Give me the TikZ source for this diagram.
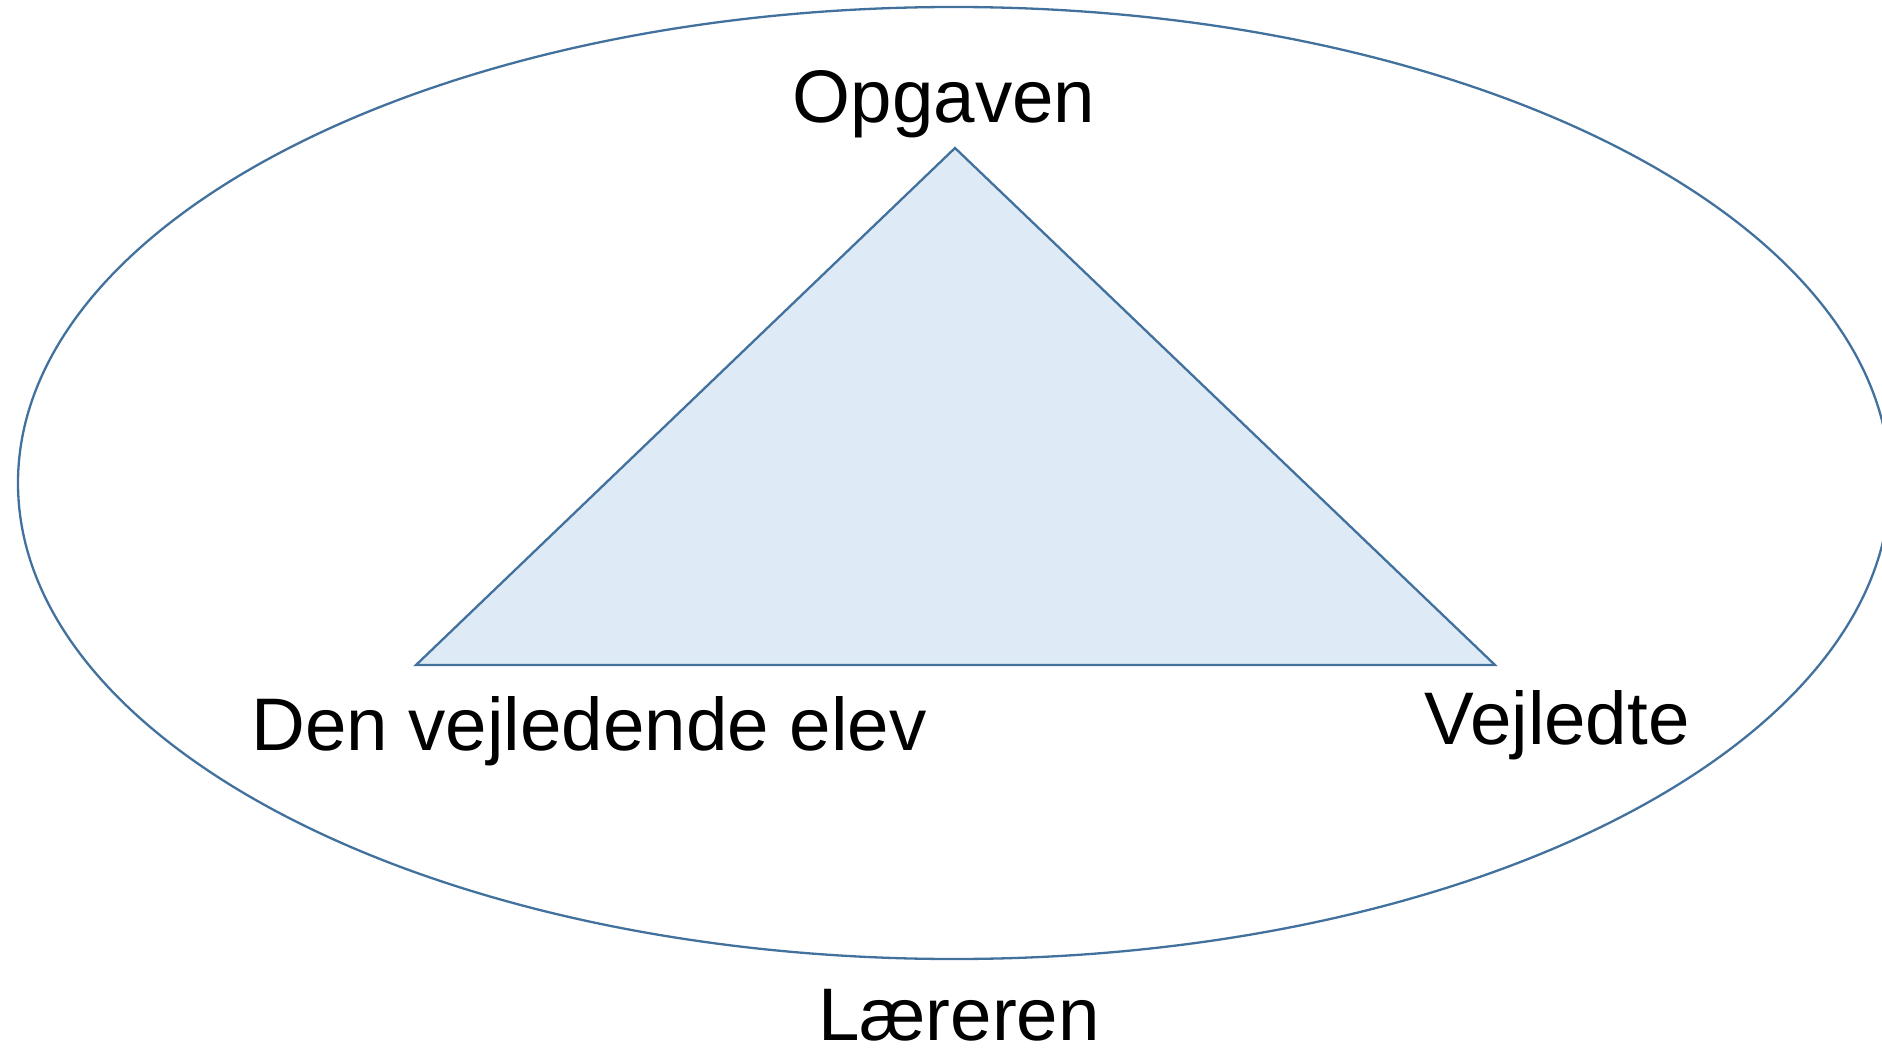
\documentclass[tikz,border=0pt]{standalone}
\usepackage{fontspec}
\setmainfont{Liberation Sans}
\definecolor{edgeblue}{HTML}{41719C}
\definecolor{fillblue}{HTML}{DEEBF7}
\begin{document}
\begin{tikzpicture}[x=1pt,y=-1pt,
  lbl/.style={anchor=base,inner sep=0pt,font=\fontsize{74.5}{88}\selectfont},
  outline/.style={draw=edgeblue,line width=2.3pt}]
\useasboundingbox (0,0) rectangle (1882,1048);
\clip (0,0) rectangle (1882,1048);
\draw[outline] (954,483) ellipse [x radius=936, y radius=476];
\coordinate (top) at (955,148);
\coordinate (left) at (416,665);
\coordinate (right) at (1495,665);
\draw[outline,fill=fillblue,line join=miter] (top) -- (right) -- (left) -- cycle;
\node[lbl] (opg) at (944,123) {Opgaven};
\node[lbl] (den) at (589,750) {Den vejledende elev};
\node[lbl] (vej) at (1557,744) {Vejledte};
\node[lbl] (laer) at (959,1040) {Læreren};
\end{tikzpicture}
\end{document}
